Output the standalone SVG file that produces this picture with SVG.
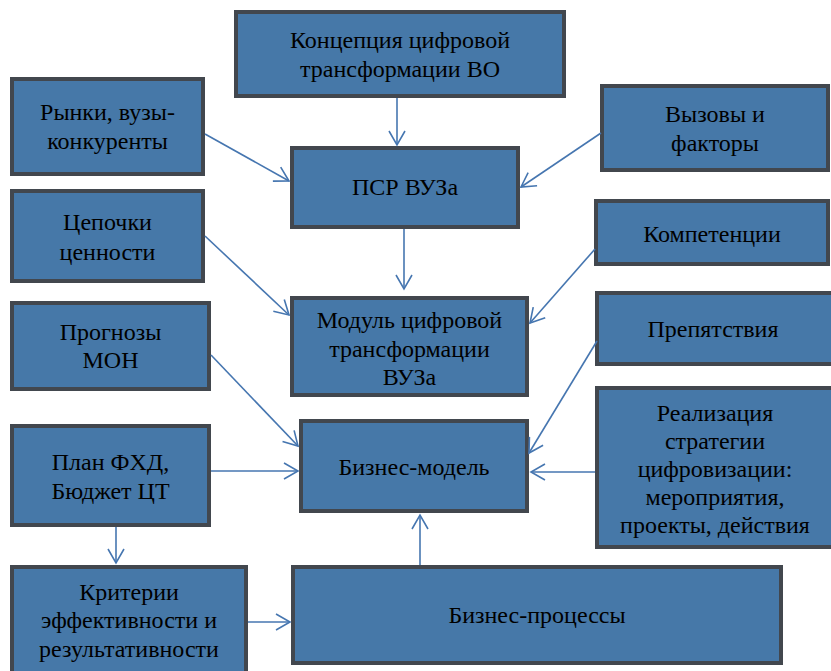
<svg xmlns="http://www.w3.org/2000/svg" width="831" height="671" viewBox="0 0 831 671">
<defs>
<style>
.box{fill:#4678a8;stroke:#42474e;stroke-width:4}
.t{font-family:"Liberation Serif","Times New Roman",serif;font-size:24px;fill:#000;text-anchor:middle}
.c{stroke:#4676b0;stroke-width:1.6;fill:none;marker-end:url(#ah)}
</style>
<marker id="ah" markerUnits="userSpaceOnUse" markerWidth="20" markerHeight="20" viewBox="-15 -10 20 20" refX="0" refY="0" orient="auto">
<path d="M-14,-8 L0,0 L-14,8" fill="none" stroke="#4676b0" stroke-width="1.6"/>
</marker>
</defs>
<rect width="831" height="671" fill="#fff"/>
<g id="n-koncepciya"><rect class="box" x="236" y="12" width="328" height="84"/><text class="t" x="400" y="48">Концепция цифровой</text><text class="t" x="400" y="77">трансформации ВО</text></g>
<g id="n-rynki"><rect class="box" x="12" y="79" width="191" height="95"/><text class="t" x="107.5" y="120">Рынки, вузы-</text><text class="t" x="107.5" y="149">конкуренты</text></g>
<g id="n-psr"><rect class="box" x="292" y="148" width="226" height="79"/><text class="t" x="405" y="195">ПСР ВУЗа</text></g>
<g id="n-vyzovy"><rect class="box" x="602" y="86" width="226" height="84"/><text class="t" x="715" y="122">Вызовы и</text><text class="t" x="715" y="151">факторы</text></g>
<g id="n-cepochki"><rect class="box" x="12" y="191" width="191" height="90"/><text class="t" x="107.5" y="230">Цепочки</text><text class="t" x="107.5" y="260">ценности</text></g>
<g id="n-kompetencii"><rect class="box" x="596" y="201" width="232" height="63"/><text class="t" x="712" y="242">Компетенции</text></g>
<g id="n-modul"><rect class="box" x="292" y="298" width="235" height="97"/><text class="t" x="409.5" y="328">Модуль цифровой</text><text class="t" x="409.5" y="357">трансформации</text><text class="t" x="409.5" y="385">ВУЗа</text></g>
<g id="n-prepyatstviya"><rect class="box" x="597" y="293" width="240" height="71"/><text class="t" x="713" y="337">Препятствия</text></g>
<g id="n-prognozy"><rect class="box" x="12" y="303" width="197" height="86"/><text class="t" x="110.5" y="340">Прогнозы</text><text class="t" x="110.5" y="368">МОН</text></g>
<g id="n-biznes-model"><rect class="box" x="301" y="421" width="226" height="90"/><text class="t" x="414" y="475">Бизнес-модель</text></g>
<g id="n-realizaciya"><rect class="box" x="597" y="388" width="240" height="159"/><text class="t" x="715" y="421">Реализация</text><text class="t" x="715" y="449">стратегии</text><text class="t" x="715" y="477">цифровизации:</text><text class="t" x="715" y="505">мероприятия,</text><text class="t" x="715" y="533">проекты, действия</text></g>
<g id="n-plan"><rect class="box" x="12" y="426" width="197" height="99"/><text class="t" x="110.5" y="470">План ФХД,</text><text class="t" x="110.5" y="499">Бюджет ЦТ</text></g>
<g id="n-kriterii"><rect class="box" x="12" y="567" width="234" height="110"/><text class="t" x="129" y="600">Критерии</text><text class="t" x="129" y="628">эффективности и</text><text class="t" x="129" y="657">результативности</text></g>
<g id="n-biznes-processy"><rect class="box" x="293" y="567" width="488" height="96"/><text class="t" x="537" y="623">Бизнес-процессы</text></g>
<g id="connectors">
<line class="c" x1="397" y1="98" x2="397" y2="145"/>
<line class="c" x1="205" y1="134" x2="289" y2="181"/>
<line class="c" x1="601" y1="133" x2="521" y2="187"/>
<line class="c" x1="404" y1="229" x2="404" y2="289"/>
<line class="c" x1="205" y1="236" x2="289" y2="315"/>
<line class="c" x1="595" y1="249" x2="530" y2="323"/>
<line class="c" x1="211" y1="355" x2="298" y2="446"/>
<line class="c" x1="597" y1="341" x2="529" y2="453"/>
<line class="c" x1="211" y1="471" x2="298" y2="471"/>
<line class="c" x1="595" y1="472" x2="531" y2="472"/>
<line class="c" x1="420" y1="565" x2="420" y2="515"/>
<line class="c" x1="116" y1="527" x2="116" y2="563"/>
<line class="c" x1="248" y1="622" x2="290" y2="622"/>
</g>
</svg>
